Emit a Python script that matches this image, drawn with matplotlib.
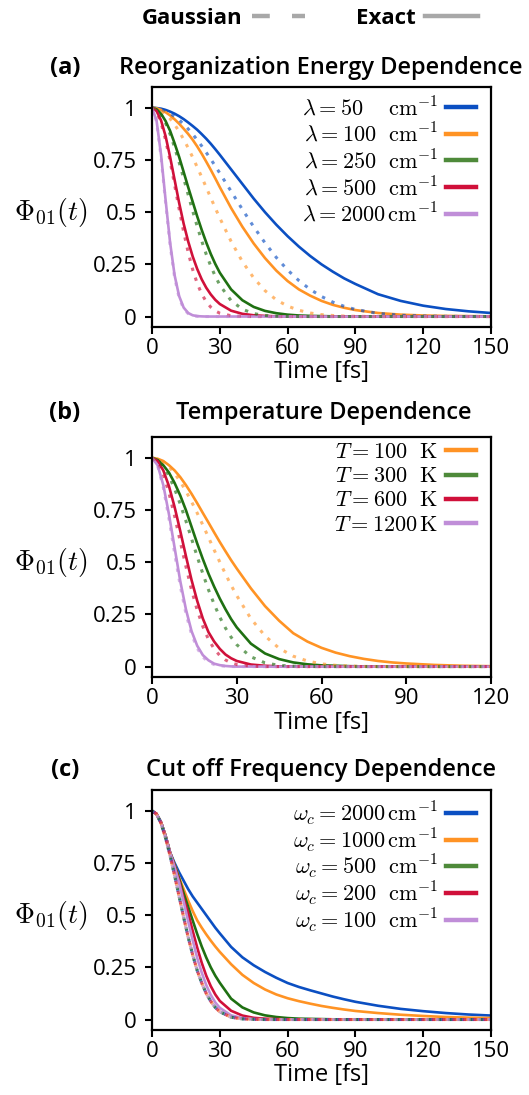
import matplotlib
matplotlib.use("Agg")
import matplotlib.pyplot as plt
from matplotlib.lines import Line2D

plt.rcParams['font.family'] = ['Open Sans', 'DejaVu Sans']
plt.rcParams['mathtext.fontset'] = 'cm'

# ---- panel (a): reorganization energy dependence ----
t_a = [0, 2, 4, 6, 8, 10, 12, 14, 16, 18, 20, 22, 24, 26, 28, 30,
       35, 40, 45, 50, 55, 60, 65, 70, 75, 80, 85, 90,
       100, 110, 120, 130, 140, 150]
labels_a = [r'$\lambda = 50\quad\ \mathrm{cm}^{-1}$', r'$\lambda = 100\ \ \mathrm{cm}^{-1}$',
            r'$\lambda = 250\ \ \mathrm{cm}^{-1}$', r'$\lambda = 500\ \ \mathrm{cm}^{-1}$',
            r'$\lambda = 2000\,\mathrm{cm}^{-1}$']
exact_a_50 = [1, 0.999, 0.996, 0.99, 0.982, 0.972, 0.96, 0.946, 0.93, 0.913, 0.895, 0.874, 0.852, 0.828, 0.802, 0.775,
              0.705, 0.635, 0.565, 0.50, 0.44, 0.385, 0.335, 0.29, 0.25, 0.215, 0.183, 0.156,
              0.107, 0.075, 0.052, 0.036, 0.025, 0.017]
gauss_a_50 = [1, 0.998, 0.993, 0.985, 0.974, 0.959, 0.942, 0.922, 0.899, 0.874, 0.846, 0.817, 0.786, 0.754, 0.721, 0.687,
              0.600, 0.513, 0.430, 0.353, 0.283, 0.223, 0.172, 0.130, 0.096, 0.069, 0.049, 0.034,
              0.015, 0.006, 0.0025, 0.0009, 0.0003, 0.0001]
exact_a_100 = [1, 0.998, 0.99, 0.979, 0.964, 0.945, 0.924, 0.90, 0.875, 0.847, 0.815, 0.78, 0.742, 0.703, 0.662, 0.62,
               0.52, 0.43, 0.35, 0.28, 0.22, 0.17, 0.13, 0.10, 0.075, 0.056, 0.042, 0.031,
               0.017, 0.009, 0.005, 0.003, 0.002, 0.001]
gauss_a_100 = [1, 0.997, 0.987, 0.970, 0.948, 0.920, 0.887, 0.849, 0.808, 0.763, 0.716, 0.668, 0.619, 0.569, 0.520, 0.472,
               0.36, 0.263, 0.185, 0.124, 0.080, 0.05, 0.03, 0.017, 0.009, 0.005, 0.0024, 0.0012,
               0.0002, 0, 0, 0, 0, 0]
exact_a_250 = [1, 0.993, 0.972, 0.937, 0.89, 0.83, 0.765, 0.693, 0.62, 0.55, 0.48, 0.415, 0.355, 0.30, 0.252, 0.21,
               0.13, 0.078, 0.046, 0.027, 0.016, 0.009, 0.005, 0.003, 0.002, 0.001, 0, 0,
               0, 0, 0, 0, 0, 0]
gauss_a_250 = [1, 0.992, 0.967, 0.927, 0.874, 0.811, 0.739, 0.663, 0.584, 0.506, 0.432, 0.362, 0.298, 0.242, 0.193, 0.151,
               0.076, 0.035, 0.014, 0.005, 0.0017, 0.0005, 0, 0, 0, 0, 0, 0,
               0, 0, 0, 0, 0, 0]
exact_a_500 = [1, 0.985, 0.94, 0.865, 0.765, 0.655, 0.545, 0.445, 0.36, 0.288, 0.228, 0.178, 0.138, 0.106, 0.08, 0.06,
               0.028, 0.013, 0.006, 0.003, 0.001, 0, 0, 0, 0, 0, 0, 0,
               0, 0, 0, 0, 0, 0]
gauss_a_500 = [1, 0.982, 0.929, 0.847, 0.745, 0.631, 0.516, 0.406, 0.308, 0.225, 0.159, 0.108, 0.071, 0.045, 0.027, 0.016,
               0.0036, 0.0006, 0, 0, 0, 0, 0, 0, 0, 0, 0, 0,
               0, 0, 0, 0, 0, 0]
exact_a_2000 = [1, 0.94, 0.775, 0.56, 0.355, 0.198, 0.098, 0.043, 0.017, 0.006, 0.002, 0.0007, 0, 0, 0, 0,
                0, 0, 0, 0, 0, 0, 0, 0, 0, 0, 0, 0,
                0, 0, 0, 0, 0, 0]
gauss_a_2000 = [1, 0.935, 0.766, 0.548, 0.343, 0.188, 0.09, 0.038, 0.014, 0.0045, 0.0013, 0.0003, 0, 0, 0, 0,
                0, 0, 0, 0, 0, 0, 0, 0, 0, 0, 0, 0,
                0, 0, 0, 0, 0, 0]

# ---- panel (b): temperature dependence ----
t_b = [0, 2, 4, 6, 8, 10, 12, 14, 16, 18, 20, 22, 24, 26, 28, 30,
       35, 40, 45, 50, 55, 60, 65, 70, 75, 80, 85, 90,
       100, 110, 120]
labels_b = [r'$T = 100\ \ \mathrm{K}$', r'$T = 300\ \ \mathrm{K}$',
            r'$T = 600\ \ \mathrm{K}$', r'$T = 1200\,\mathrm{K}$']
exact_b_100 = [1, 0.996, 0.985, 0.965, 0.94, 0.908, 0.87, 0.828, 0.783, 0.736, 0.69, 0.643, 0.597, 0.553, 0.51, 0.47,
               0.375, 0.29, 0.22, 0.16, 0.12, 0.09, 0.067, 0.05, 0.037, 0.027, 0.02, 0.015,
               0.008, 0.004, 0.002]
gauss_b_100 = [1, 0.995, 0.981, 0.958, 0.926, 0.887, 0.841, 0.79, 0.736, 0.678, 0.619, 0.559, 0.501, 0.444, 0.39, 0.34,
               0.23, 0.147, 0.088, 0.05, 0.027, 0.013, 0.006, 0.003, 0.001, 0.0005, 0, 0,
               0, 0, 0]
exact_b_300 = [1, 0.99, 0.965, 0.93, 0.88, 0.82, 0.75, 0.67, 0.59, 0.515, 0.445, 0.383, 0.326, 0.275, 0.228, 0.188,
               0.11, 0.063, 0.036, 0.02, 0.011, 0.006, 0.004, 0.002, 0.001, 0, 0, 0,
               0, 0, 0]
gauss_b_300 = [1, 0.99, 0.961, 0.914, 0.852, 0.779, 0.698, 0.613, 0.527, 0.445, 0.368, 0.299, 0.237, 0.185, 0.141, 0.105,
               0.047, 0.018, 0.006, 0.002, 0.0005, 0, 0, 0, 0, 0, 0, 0,
               0, 0, 0]
exact_b_600 = [1, 0.985, 0.94, 0.865, 0.765, 0.65, 0.53, 0.415, 0.315, 0.23, 0.165, 0.12, 0.085, 0.058, 0.04, 0.027,
               0.01, 0.004, 0.001, 0, 0, 0, 0, 0, 0, 0, 0, 0,
               0, 0, 0]
gauss_b_600 = [1, 0.98, 0.922, 0.832, 0.722, 0.6, 0.48, 0.368, 0.271, 0.192, 0.13, 0.085, 0.053, 0.032, 0.018, 0.010,
               0.002, 0, 0, 0, 0, 0, 0, 0, 0, 0, 0, 0,
               0, 0, 0]
exact_b_1200 = [1, 0.965, 0.87, 0.73, 0.57, 0.41, 0.275, 0.17, 0.10, 0.055, 0.03, 0.014, 0.007, 0.003, 0.001, 0,
                0, 0, 0, 0, 0, 0, 0, 0, 0, 0, 0, 0,
                0, 0, 0]
gauss_b_1200 = [1, 0.963, 0.859, 0.71, 0.544, 0.387, 0.255, 0.155, 0.088, 0.046, 0.022, 0.01, 0.004, 0.0016, 0.0006, 0,
                0, 0, 0, 0, 0, 0, 0, 0, 0, 0, 0, 0,
                0, 0, 0]

# ---- panel (c): cut off frequency dependence ----
t_c = t_a
labels_c = [r'$\omega_c = 2000\,\mathrm{cm}^{-1}$', r'$\omega_c = 1000\,\mathrm{cm}^{-1}$',
            r'$\omega_c = 500\ \ \mathrm{cm}^{-1}$', r'$\omega_c = 200\ \ \mathrm{cm}^{-1}$',
            r'$\omega_c = 100\ \ \mathrm{cm}^{-1}$']
exact_c_2000 = [1, 0.985, 0.945, 0.88, 0.80, 0.75, 0.705, 0.665, 0.625, 0.59, 0.56, 0.53, 0.50, 0.47, 0.44, 0.413,
                0.348, 0.298, 0.26, 0.228, 0.2, 0.175, 0.156, 0.14, 0.125, 0.11, 0.097, 0.085,
                0.066, 0.051, 0.04, 0.031, 0.024, 0.019]
exact_c_1000 = [1, 0.985, 0.945, 0.88, 0.80, 0.74, 0.68, 0.625, 0.57, 0.52, 0.475, 0.44, 0.408, 0.378, 0.35, 0.324,
                0.265, 0.214, 0.175, 0.144, 0.12, 0.102, 0.088, 0.076, 0.065, 0.056, 0.048, 0.041,
                0.031, 0.023, 0.017, 0.012, 0.009, 0.007]
exact_c_500 = [1, 0.985, 0.945, 0.88, 0.80, 0.74, 0.675, 0.605, 0.54, 0.475, 0.41, 0.35, 0.297, 0.25, 0.21, 0.176,
               0.10, 0.058, 0.034, 0.02, 0.012, 0.007, 0.004, 0.003, 0.002, 0.001, 0, 0,
               0, 0, 0, 0, 0, 0]
exact_c_200 = [1, 0.985, 0.945, 0.88, 0.80, 0.735, 0.665, 0.58, 0.51, 0.425, 0.345, 0.272, 0.21, 0.16, 0.12, 0.089,
               0.042, 0.019, 0.008, 0.004, 0.002, 0.001, 0, 0, 0, 0, 0, 0,
               0, 0, 0, 0, 0, 0]
exact_c_100 = [1, 0.985, 0.945, 0.88, 0.80, 0.73, 0.655, 0.565, 0.47, 0.38, 0.295, 0.225, 0.165, 0.118, 0.082, 0.056,
               0.02, 0.007, 0.002, 0.001, 0, 0, 0, 0, 0, 0, 0, 0,
               0, 0, 0, 0, 0, 0]
# the gaussian curves of panel (c) lie on top of each other
gauss_c = [1, 0.985, 0.94, 0.87, 0.785, 0.69, 0.59, 0.49, 0.395, 0.31, 0.235, 0.175, 0.125, 0.087, 0.058, 0.037,
           0.011, 0.003, 0.001, 0, 0, 0, 0, 0, 0, 0, 0, 0,
           0, 0, 0, 0, 0, 0]

blue, orange, green, red, purple = '#0b4fc2', '#ff9324', '#1f7012', '#d0103a', '#c08ed8'
legend_green = '#4e8a3a'

panels = [
    dict(t=t_a, xmax=150, labels=labels_a, colors=[blue, orange, green, red, purple],
         exact=[exact_a_50, exact_a_100, exact_a_250, exact_a_500, exact_a_2000],
         gauss=[gauss_a_50, gauss_a_100, gauss_a_250, gauss_a_500, gauss_a_2000],
         tag='(a)', title='Reorganization Energy Dependence', bottom=0.7014, ty=68, tx=321,
         lsp=0.14, dy=3),
    dict(t=t_b, xmax=120, labels=labels_b, colors=[orange, green, red, purple],
         exact=[exact_b_100, exact_b_300, exact_b_600, exact_b_1200],
         gauss=[gauss_b_100, gauss_b_300, gauss_b_600, gauss_b_1200],
         tag='(b)', title='Temperature Dependence', bottom=0.3817, ty=413, tx=324,
         lsp=0.14, dy=7),
    dict(t=t_c, xmax=150, labels=labels_c, colors=[blue, orange, green, red, purple],
         exact=[exact_c_2000, exact_c_1000, exact_c_500, exact_c_200, exact_c_100],
         gauss=[gauss_c] * 5,
         tag='(c)', title='Cut off Frequency Dependence', bottom=0.0594, ty=770, tx=321,
         lsp=-0.05, dy=3),
]

W, H = 529, 1095
fig = plt.figure(figsize=(W / 100, H / 100), dpi=100)

for p in panels:
    ax = fig.add_axes([152 / W, p['bottom'], 339 / W, 240 / H])
    for ys, c in zip(p['exact'], p['colors']):
        ax.plot(p['t'], ys, color=c, lw=1.9, solid_capstyle='butt')
    for k, (ys, c) in enumerate(zip(p['gauss'], p['colors'])):
        off = 2.0 * k if p['tag'] == '(c)' else 0
        ax.plot(p['t'], ys, color=c, lw=2.2, alpha=0.65, linestyle=(off, (1.1, 2.3)))
    ax.set_xlim(0, p['xmax'])
    ax.set_ylim(-0.05, 1.1)
    ax.set_xticks(range(0, p['xmax'] + 1, 30))
    ax.set_yticks([0, 0.25, 0.5, 0.75, 1])
    ax.set_yticklabels(['0', '0.25', '0.5', '0.75', '1'])
    ax.tick_params(labelsize=16, width=1.5, length=5)
    ax.tick_params(axis='y', pad=6)
    ax.tick_params(axis='x', pad=3)
    for s in ax.spines.values():
        s.set_linewidth(1.6)
    ax.set_xlabel('Time [fs]', fontsize=17, labelpad=1)
    ax.set_ylabel(r'$\Phi_{01}(t)$', fontsize=20, rotation=0, va='center', ha='center')
    ax.yaxis.set_label_coords(-0.30, 0.478)
    handles = [Line2D([], [], color=c if c != green else legend_green, lw=3.2) for c in p['colors']]
    ax.legend(handles, p['labels'], loc='upper right', frameon=False, markerfirst=False,
              bbox_to_anchor=(1 - 3 / 339, 1 + p['dy'] / 240),
              fontsize=16, handlelength=1.35, handletextpad=0.35, labelspacing=p['lsp'],
              borderaxespad=0.25, borderpad=0.3)
    fig.text(65 / W, 1 - p['ty'] / H, p['tag'], fontsize=17, fontweight='bold', ha='center', va='center')
    fig.text(p['tx'] / W, 1 - p['ty'] / H, p['title'], fontsize=17, fontweight='semibold', ha='center', va='center')

head = [Line2D([], [], color='#a8a8a8', lw=3.2, linestyle=(0, (4, 5))),
        Line2D([], [], color='#a8a8a8', lw=3.2)]
fig.legend(head, ['Gaussian', 'Exact'], loc='center', bbox_to_anchor=(310 / W, 1 - 18 / H), ncol=2,
           frameon=False, markerfirst=False, prop=dict(size=16, weight='bold'),
           handlelength=2.4, handletextpad=0.4, columnspacing=2.3)

fig.savefig('out.png', dpi=100)
